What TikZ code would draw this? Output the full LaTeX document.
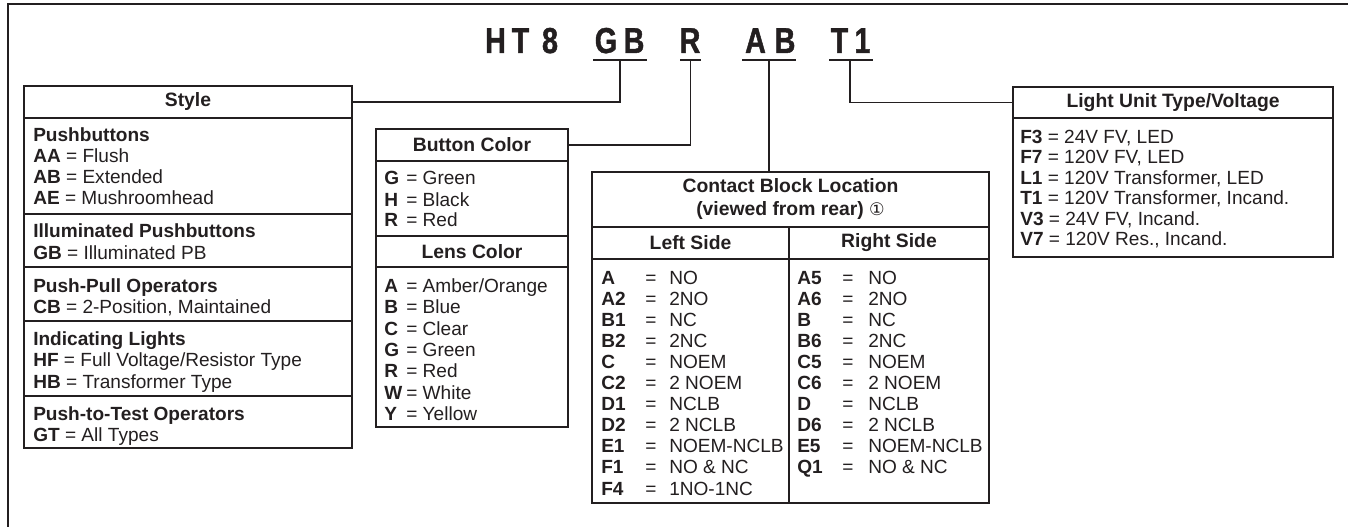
\documentclass[tikz,border=0pt]{standalone}
\usepackage{fontspec}
\setmainfont{Liberation Sans}
\newfontfamily\condfont[FakeStretch=0.8,FakeBold=1.2]{Liberation Sans}
\newfontfamily\symfont{DejaVu Sans}
\definecolor{ink}{RGB}{35,31,32}
\begin{document}
\begin{tikzpicture}[x=0.75pt,y=-0.75pt,
  body/.style={font=\fontsize{14.3}{16}\selectfont, text=ink, anchor=base west, inner sep=0pt},
  hd/.style={draw=ink, line width=0.9pt, inner sep=0pt, align=center,
    font=\bfseries\fontsize{14.5}{17.25}\selectfont, text=ink},
  frame/.style={draw=ink, line width=0.9pt},
  conn/.style={draw=ink, line width=0.9pt},
  uline/.style={draw=ink, line width=2.2pt},
  ttl/.style={font=\condfont\bfseries\fontsize{27}{27}\selectfont, anchor=base, inner sep=0pt, text=ink}]
\useasboundingbox (0,0) rectangle (1348,527);
% outer frame
\draw[draw=ink, line width=1.1pt] (1348,4) -- (8,4) -- (8,527);

% title letters
\foreach \x/\l [count=\i] in {495.5/H,520.5/T,550/8,606/G,634/B,690/R,755.5/A,785/B,839.5/T,862.5/1}
  \node[ttl] (t\i) at (\x,53) {\l};
% underlines
\draw[uline] (593,60) -- (647,60);
\draw[uline] (680,60) -- (701,60);
\draw[uline] (742,60) -- (796,60);
\draw[uline] (829,60) -- (873,60);
\coordinate (ugb) at (620,61);
\coordinate (ur) at (690.5,61);
\coordinate (uab) at (769,61);
\coordinate (ut1) at (850,61);

% ---------- Style box
\node[hd, minimum width=328*0.75pt, minimum height=32*0.75pt] (sty) at (188,102) {Style};
\draw[frame] (24,118) rectangle (352,448);
\foreach \yy in {214,267,321,396} \draw[frame] (24,\yy) -- (352,\yy);
\foreach \y/\t [count=\i] in {
  142/{\textbf{Pushbuttons}},
  163/{\textbf{AA} = Flush},
  184/{\textbf{AB} = Extended},
  205/{\textbf{AE} = Mushroomhead},
  238/{\textbf{Illuminated Pushbuttons}},
  259/{\textbf{GB} = Illuminated PB},
  292/{\textbf{Push-Pull Operators}},
  313/{\textbf{CB} = 2-Position, Maintained},
  345/{\textbf{Indicating Lights}},
  366/{\textbf{HF} = Full Voltage/Resistor Type},
  388/{\textbf{HB} = Transformer Type},
  420/{\textbf{Push-to-Test Operators}},
  441/{\textbf{GT} = All Types}}
  \node[body] (st\i) at (33,\y) {\t};

% ---------- Button / Lens colour box
\node[hd, minimum width=192*0.75pt, minimum height=32*0.75pt] (btn) at (472,145) {Button Color};
\draw[frame] (376,161) rectangle (568,427);
\node[hd, minimum width=192*0.75pt, minimum height=31*0.75pt] (lens) at (472,251.5) {Lens Color};
\foreach \y/\c/\v [count=\i] in {185/G/Green,207/H/Black,227/R/Red}{
  \node[body] (bc\i) at (384,\y) {\textbf{\c}};
  \node[body] (bv\i) at (406,\y) {= \v};}
\foreach \y/\c/\v [count=\i] in {292/A/{Amber/Orange},313/B/Blue,335/C/Clear,356/G/Green,377/R/Red,399/W/White,420/Y/Yellow}{
  \node[body] (lc\i) at (384,\y) {\textbf{\c}};
  \node[body] (lv\i) at (406,\y) {= \v};}

% ---------- Contact block box
\node[hd, minimum width=397*0.75pt, minimum height=55*0.75pt] (cbl) at (790.5,199.5)
  {Contact Block Location\\(viewed from rear) {\symfont\mdseries\fontsize{13}{13}\selectfont ①}};
\node[hd, minimum width=197*0.75pt, minimum height=32*0.75pt] (ls) at (690.5,243) {Left Side};
\node[hd, minimum width=200*0.75pt, minimum height=32*0.75pt] (rs) at (889,243) {Right Side};
\draw[frame] (592,259) rectangle (989,503);
\draw[frame] (789,259) -- (789,503);
\foreach \c/\v [count=\i] in {A/NO,A2/2NO,B1/NC,B2/2NC,C/NOEM,C2/2 NOEM,D1/NCLB,D2/2 NCLB,E1/NOEM-NCLB,F1/NO \& NC,F4/1NO-1NC}{
  \pgfmathsetmacro\yy{284+(\i-1)*21.1}
  \node[body] (lk\i) at (601,\yy) {\textbf{\c}};
  \node[body] (le\i) at (645,\yy) {=};
  \node[body] (lv\i) at (669,\yy) {\v};}
\foreach \c/\v [count=\i] in {A5/NO,A6/2NO,B/NC,B6/2NC,C5/NOEM,C6/2 NOEM,D/NCLB,D6/2 NCLB,E5/NOEM-NCLB,Q1/NO \& NC}{
  \pgfmathsetmacro\yy{284+(\i-1)*21.1}
  \node[body] (rk\i) at (797,\yy) {\textbf{\c}};
  \node[body] (re\i) at (842,\yy) {=};
  \node[body] (rv\i) at (868,\yy) {\v};}

% ---------- Light unit box
\node[hd, minimum width=320*0.75pt, minimum height=31*0.75pt] (lut) at (1173,102.5) {Light Unit Type/Voltage};
\draw[frame] (1013,118) rectangle (1333,257);
\foreach \y/\c/\v [count=\i] in {144/F3/{24V FV, LED},164/F7/{120V FV, LED},185/L1/{120V Transformer, LED},
  205/T1/{120V Transformer, Incand.},226/V3/{24V FV, Incand.},246/V7/{120V Res., Incand.}}
  \node[body] (lu\i) at (1020,\y) {\textbf{\c} = \v};

% ---------- connectors
\draw[conn] (ugb) |- (sty.east);
\draw[conn] (ur) |- (btn.east);
\draw[conn] (uab) -- (uab |- cbl.north);
\draw[conn] (ut1) |- (lut.west);
\end{tikzpicture}
\end{document}
